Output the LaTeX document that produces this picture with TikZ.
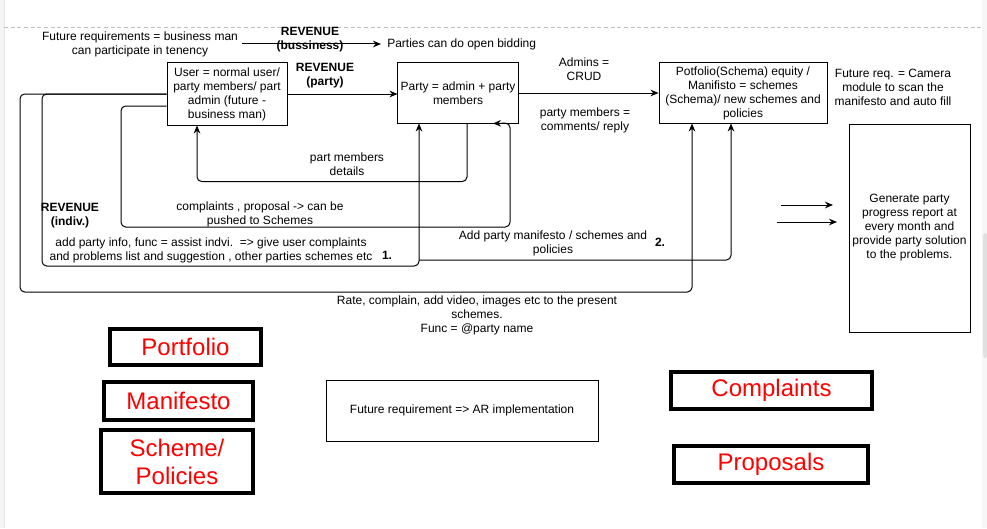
\documentclass[tikz,border=0pt]{standalone}
\usepackage{fontspec}
\setmainfont{Liberation Sans}
\usetikzlibrary{arrows.meta,calc}
\newcommand\dfont{\fontsize{9}{10.5}\selectfont}
\newcommand\rfont{\fontsize{18}{21}\selectfont}
\begin{document}
\begin{tikzpicture}[x=0.75pt,y=-0.75pt,
 conn/.style={line width=0.75pt,-{Stealth[length=6pt,width=5pt]},rounded corners=3.5pt},
 box/.style={draw,line width=0.75pt,align=center,inner sep=2pt,font=\dfont},
 redbox/.style={draw,line width=3pt,text=red,align=center,inner sep=0pt,font=\rfont},
 txt/.style={align=center,inner sep=0pt,font=\dfont},
 btxt/.style={align=center,inner sep=0pt,font=\dfont\bfseries}]
\useasboundingbox (0,0) rectangle (987,528);
\fill[white] (0,0) rectangle (987,528);
\fill[black!4] (0,0) rectangle (4,528);
\draw[black!10,line width=0.5pt] (4,0) -- (4,528);
\fill[black!3] (982,0) rectangle (987,528);
\fill[black!12,rounded corners=2pt] (983,233) rectangle (987,358);
\draw[black!25,dash pattern=on 3pt off 2pt,line width=0.6pt] (4,27) -- (981,27);

% main boxes
\node[box,minimum width=90pt,minimum height=46.5pt] (user) at (227,94) {User = normal user/\\party members/ part\\admin (future -\\business man)};
\node[box,minimum width=90pt,minimum height=45pt] (party) at (458,93) {Party = admin + party\\members};
\node[box,minimum width=126pt,minimum height=45pt] (port) at (743,93) {Potfolio(Schema) equity /\\Manifisto = schemes\\(Schema)/ new schemes and\\policies};
\node[box,minimum width=90.75pt,minimum height=156pt] (report) at (909.5,228) {Generate party\\progress report at\\every month and\\provide party solution\\to the problems.};
\node[box,minimum width=204pt,minimum height=45.75pt] (ar) at (462,410.5) {Future requirement =\textgreater{} AR implementation};

% red boxes
\node[redbox,minimum width=113.25pt,minimum height=27pt] (rport) at (185.5,347) {Portfolio};
\node[redbox,minimum width=111.75pt,minimum height=28.5pt] (rman) at (178.5,401) {Manifesto};
\node[redbox,minimum width=114pt,minimum height=47.25pt] (rsch) at (177,461.5) {Scheme/\\Policies};
\node[redbox,minimum width=150.75pt,minimum height=27.75pt] (rcomp) at (771.5,390.5) {Complaints};
\node[redbox,minimum width=145.5pt,minimum height=27.75pt] (rprop) at (771,464.5) {Proposals};

% free texts
\node[txt,inner sep=3pt] (fr) at (140,44) {Future requirements = business man\\can participate in tenency};
\node[txt,inner sep=4.5pt,anchor=west] (bid) at (381,44) {Parties can do open bidding};
\node[btxt] (rev1) at (310,40) {REVENUE\\(bussiness)};
\node[btxt] (rev2) at (325,76) {REVENUE\\(party)};
\node[txt] (admins) at (584,69) {Admins =\\CRUD};
\node[txt] (pm) at (585,120) {party members =\\comments/ reply};
\node[txt] (fut) at (893,87) {Future req. = Camera\\module to scan the\\manifesto and auto fill};
\node[txt] (pmd) at (347,164) {part members\\details};
\node[txt] (comp) at (260,214) {complaints , proposal -\textgreater{} can be\\pushed to Schemes};
\node[btxt] (revi) at (70,216) {REVENUE\\(indiv.)};
\node[txt] (add) at (211,250) {add party info, func = assist indvi.\ \ =\textgreater{} give user complaints\\and problems list and suggestion , other parties schemes etc};
\node[btxt] (one) at (387,255) {1.};
\node[txt] (apm) at (553,243) {Add party manifesto / schemes and\\policies};
\node[btxt] (two) at (660,242) {2.};
\node[txt] (rate) at (477,315) {Rate, complain, add video, images etc to the present\\schemes.\\Func = @party name};

% connectors
\draw[conn] (fr.east) -- (bid.west);
\draw[conn] (user.east) -- (party.west |- user.east);
\draw[conn] (party.east) -- (port.west);
\draw[conn] ([xshift=6.75pt]party.south) -- ++(0,58) -| ([xshift=-22.5pt]user.south);
\draw[conn] ([yshift=-9pt]user.west) -| (121,227) -| (510,123) -- ([xshift=26.25pt]party.south);
\draw[conn] (user.west) -| (42,266) -| ([xshift=-29.25pt]party.south);
\draw[conn] (user.west) -| (20,292) -| ([xshift=-38.25pt]port.south);
\coordinate (e2s) at (419,260);
\draw[conn] (e2s) -| ([xshift=-9pt]port.south);
\coordinate (a1s) at (781,205);
\coordinate (a1e) at (833,205);
\coordinate (a2s) at (777,222);
\coordinate (a2e) at (837,222);
\draw[conn] (a1s) -- (a1e);
\draw[conn] (a2s) -- (a2e);
\end{tikzpicture}
\end{document}
